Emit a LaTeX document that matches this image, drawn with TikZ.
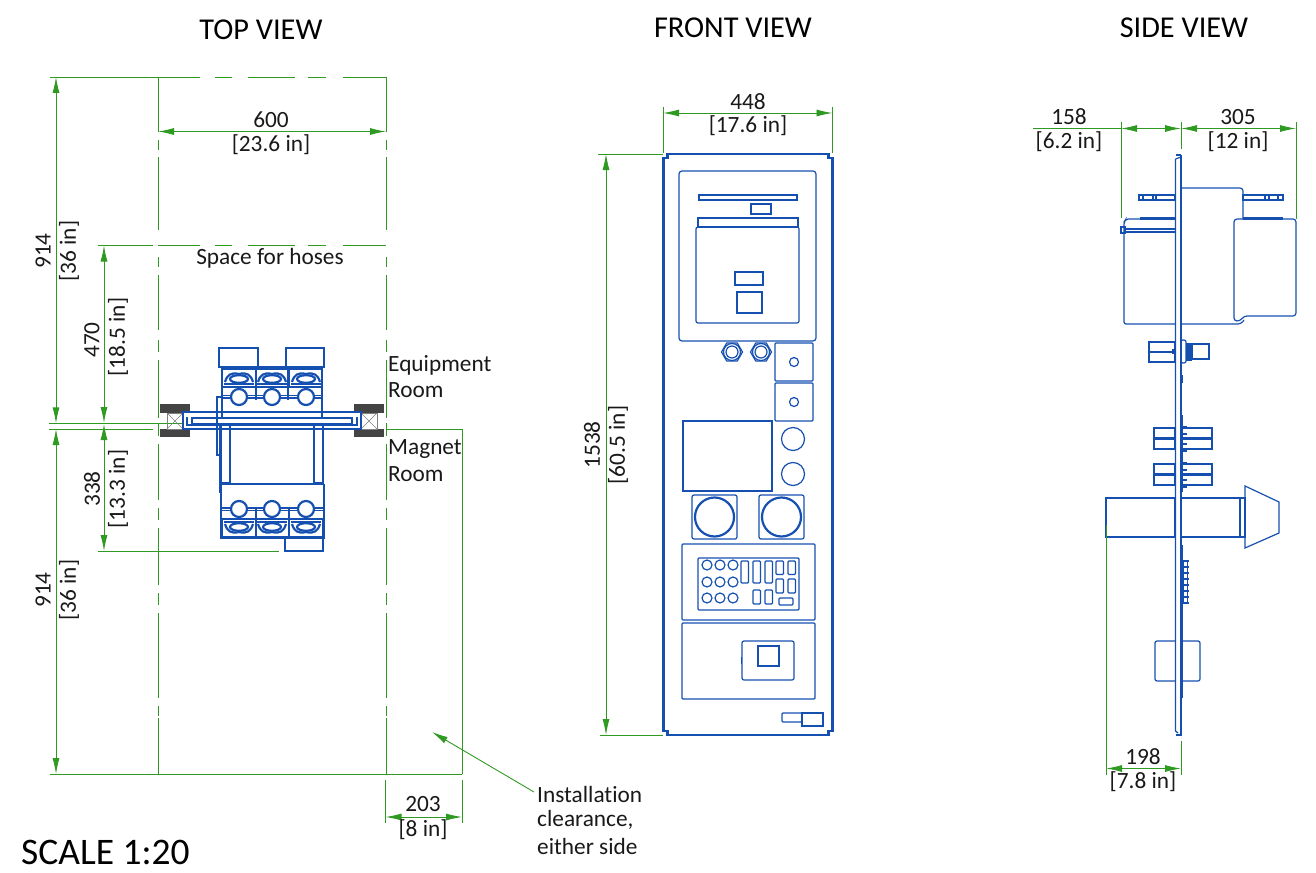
\documentclass[tikz,border=0pt]{standalone}
\usepackage{fontspec}
\setmainfont{Carlito}[Ligatures=NoCommon]
\usetikzlibrary{arrows.meta}
\definecolor{dimgreen}{HTML}{2F9A22}
\definecolor{partblue}{HTML}{1550B0}
\definecolor{wallgray}{HTML}{444444}
\tikzset{
  dimline/.style={draw=dimgreen, line width=0.9pt},
  dimarrow/.style={dimline, {Latex[length=16pt,width=7pt]}-{Latex[length=16pt,width=7pt]}},
  part/.style={draw=partblue, line width=1.2pt},
  thickpart/.style={draw=partblue, line width=2.2pt},
  dimtext/.style={text=black!90, font=\fontsize{23.3}{25}\selectfont, inner sep=0pt},
  viewtitle/.style={text=black, font=\fontsize{30.3}{32}\selectfont, inner sep=0pt},
  clampcell/.pic={
    \draw[part] (-16.5,-18) rectangle (16.5,0);
    \draw[thickpart] (-15,-3) -- (15,-3);
    \draw[part] (-15,0) -- (15,0);
    \draw[thickpart] (-14,-5) .. controls (-12,-12) and (-8,-15) .. (0,-13)
      .. controls (8,-15) and (12,-12) .. (14,-5);
    \draw[thickpart] (0,-8) ellipse (9 and 3.8);
    \draw[thickpart] (0,10) circle (8);
    \draw[part] (-17,8.5) -- (-8,8.5) (8,8.5) -- (17,8.5);
    \draw[part] (-17,11) -- (-8,11) (8,11) -- (17,11);
  },
  hexnut/.pic={
    \draw[part] (0:10.5) -- (60:10.5) -- (120:10.5) -- (180:10.5) -- (240:10.5) -- (300:10.5) -- cycle;
    \draw[part] (0,0) circle (8.5);
    \draw[part] (0,0) circle (6);
  },
}
\begin{document}
\begin{tikzpicture}[x=1pt, y=-1pt]
\useasboundingbox (0,0) rectangle (1316,872);
% titles
\node[viewtitle] (topTitle) at (261,30) {TOP VIEW};
\node[viewtitle] (frontTitle) at (733,28) {FRONT VIEW};
\node[viewtitle] (sideTitle) at (1184,28) {SIDE VIEW};
\node[viewtitle, anchor=west, font=\fontsize{37.5}{39}\selectfont] (scaleTitle) at (21,852) {SCALE 1:20};

% top view: clearance
\draw[dimline] (50,77) -- (158,77);
\draw[dimline] (98,245.5) -- (153,245.5);
\foreach \dy in {77,245.5}
  \foreach \xa/\xb in {158/200,215/232,248/295,308/326,343/386}
    \draw[dimline] (\xa,\dy) -- (\xb,\dy);
\draw[dimline] (158,77) -- (158,132);
\draw[dimline] (386,77) -- (386,132);
\foreach \dx in {158,386}
  \foreach \ya/\yb in {140/150,157/230,245.5/245.5,257/267,275/330,340/352,360/418,423/436,444/500,508/520,528/585,593/605,613/698,706/716,718/774}
    \draw[dimline] (\dx,\ya) -- (\dx,\yb);
\draw[dimline] (49,423.3) -- (182,423.3);
\draw[dimline] (49,429) -- (153,429);
\draw[dimline] (386,429) -- (462,429) -- (462,774);
\draw[dimline] (98,551) -- (279,551);
\draw[dimline] (50,774) -- (462,774);
\draw[dimline] (385.5,780) -- (385.5,823);
\draw[dimline] (462,780) -- (462,823);
\draw[dimarrow] (158,131.5) -- (386,131.5);
\draw[dimarrow] (56,77) -- (56,423.3);
\draw[dimarrow] (56,429) -- (56,774);
\draw[dimarrow] (104,245.5) -- (104,423);
\draw[dimarrow] (104,424) -- (104,551);
\draw[dimarrow] (385.5,817) -- (462,817);
\draw[dimline, -{Latex[length=16pt,width=7pt]}] (534,792) -- (432,732);

% top view: wall
\fill[wallgray] (160,404) rectangle (190,413);
\fill[wallgray] (160,429) rectangle (190,437);
\fill[wallgray] (354,404) rectangle (384,413);
\fill[wallgray] (354,429) rectangle (384,437);
\foreach \wx in {167,361}{
  \draw[draw=gray, line width=0.6pt] (\wx,413) rectangle ++(16,16);
  \draw[draw=gray, line width=0.6pt] (\wx,413) -- ++(16,16) (\wx,429) -- ++(16,-16);
}

% top view: unit
\draw[part] (219,348) rectangle (258,367);
\draw[part] (286,348) rectangle (324,367);
\draw[part] (221,367) -- (323,367);
\draw[thickpart] (222,367) -- (222,418) (322,367) -- (322,418);
\draw[thickpart] (220,418) -- (324,418);
\draw[part] (256,367) -- (256,400) (288,367) -- (288,400);
\foreach \cx in {239,272,306}{
  \path (\cx,387) pic {clampcell};
  \path (\cx,519) pic[yscale=-1] {clampcell};
}
\draw[part] (183,412) rectangle (361,429);
\draw[part] (192,418) rectangle (352,424);
\draw[part] (187,417) -- (187,425) -- (357,425) -- (357,417);
\draw[part] (217,429) -- (217,397) -- (221,397);
\draw[part] (217,429) -- (217,455) -- (221,455);
\draw[part] (221,424) rectangle (230,483);
\draw[part] (314,424) rectangle (323,483);
\draw[part] (219.5,424) -- (219.5,493);
\draw[part] (220,484) -- (324,484);
\draw[thickpart] (221,484) -- (221,538) -- (324,538) -- (324,484);
\draw[part] (256,508) -- (256,538) (289,508) -- (289,538);
\draw[part] (285,538) rectangle (323,551);

% front view
\draw[thickpart] (667.5,154) -- (828.5,154) -- (828.5,158) -- (832.5,158) -- (832.5,731)
  -- (828.5,731) -- (828.5,735) -- (667.5,735) -- (667.5,731) -- (663.5,731)
  -- (663.5,158) -- (667.5,158) -- cycle;
\draw[part, rounded corners=3pt] (679,171) rectangle (816,341);
\draw[part] (699,195) rectangle (797,200);
\draw[part] (751,204) rectangle (771,214);
\draw[part] (698,218) rectangle (798,227);
\draw[part, rounded corners=2pt] (696,227) rectangle (799,323);
\draw[part] (735,272) rectangle (763,285);
\draw[part] (737,292) rectangle (762,313);
\path (732,352) pic {hexnut};
\path (761,352) pic {hexnut};
\foreach \sy in {343,383}{
  \draw[part, rounded corners=1pt] (775,\sy) rectangle ++(38,38);
  \draw[part] (794,\sy+19) circle (4.5);
}
\draw[part] (683,421) rectangle (772,491);
\draw[part] (793,439) circle (11.5);
\draw[part] (793,474) circle (11.5);
\foreach \kx in {692,759}{
  \draw[part, rounded corners=2pt] (\kx,495) rectangle ++(45,44);
  \draw[thickpart] (\kx+22.5,517) circle (19.5);
}
\draw[part, rounded corners=1pt] (682,544) rectangle (815,620);
\draw[part, rounded corners=1pt] (698,558) rectangle (799,610);
\foreach \bx in {707,720,733}
  \foreach \by in {565,582,598}
    \draw[part] (\bx,\by) circle (5);
\foreach \rx in {741,753,765}
  \draw[part, rounded corners=1pt] (\rx,561) rectangle ++(7.5,22);
\foreach \rx in {776,788}{
  \draw[part, rounded corners=1pt] (\rx,561) rectangle ++(7.5,13.5);
  \draw[part, rounded corners=1pt] (\rx,579) rectangle ++(7.5,14);
}
\foreach \rx in {753,765}
  \draw[part, rounded corners=1pt] (\rx,590) rectangle ++(7.5,14);
\draw[part, rounded corners=1pt] (779,598) rectangle (793,605);
\draw[part, rounded corners=1pt] (682,623) rectangle (815,699);
\draw[part, rounded corners=2pt] (742,641) rectangle (794,680);
\draw[part] (758,646) rectangle (779,666);
\draw[part] (741.5,657) -- (741.5,664);
\draw[part, rounded corners=1pt] (782,713) rectangle (802,722);
\draw[part] (802,713) rectangle (823,726);

% front view: dimensions
\draw[dimline] (663,107) -- (663,153);
\draw[dimline] (832.5,107) -- (832.5,153);
\draw[dimline] (598,154) -- (663,154);
\draw[dimline] (600,735) -- (663,735);
\draw[dimarrow] (663,113) -- (832.5,113);
\draw[dimarrow] (606,154) -- (606,735);

% side view
\draw[part] (1175.5,159) -- (1175.5,731) -- (1178,733);
\draw[part] (1181,155) -- (1181,735) -- (1176,735);
\draw[part] (1176,155) -- (1181,155);
\draw[part] (1175.5,159) -- (1181,157);
\draw[part, rounded corners=2pt] (1175,219) -- (1126,219) -- (1124,222) -- (1124,324) -- (1175,324);
\draw[part] (1125,229) -- (1175,229) (1125,232) -- (1175,232);
\draw[part] (1121,227) rectangle (1125,233);
\draw[thickpart] (1140,218.5) -- (1175,218.5);
\draw[part, rounded corners=3pt] (1181,188) -- (1243,188) -- (1243,219);
\draw[part, rounded corners=3pt] (1181,324) -- (1241,324) -- (1244,320);
\draw[part, rounded corners=3pt] (1243,219) -- (1234,219) -- (1234,321) -- (1240,321) -- (1244,316) -- (1296,316) -- (1296,219) -- (1243,219);
\draw[thickpart] (1243,218.5) -- (1283,218.5);
\draw[part] (1139,195) rectangle (1175,200);
\draw[part] (1143,195) -- (1143,200) (1153,195) -- (1153,200) (1156,195) -- (1156,200);
\draw[part] (1243,195) rectangle (1283,200);
\draw[part] (1265,195) -- (1265,200) (1269,195) -- (1269,200) (1278,195) -- (1278,200);
\draw[part] (1149,342) rectangle (1175,362);
\draw[part] (1149,352) -- (1175,352);
\fill[partblue] (1172,349) rectangle (1175,354);
\draw[part, rounded corners=2pt] (1181,340) rectangle (1186,363);
\fill[partblue] (1186,343) rectangle (1192,361);
\draw[part] (1192,344) rectangle (1209,359);
\draw[part] (1182,375) -- (1182,383);
\draw[part] (1182,415) -- (1182,428);
\foreach \sy in {428,464}{
  \draw[part] (1154,\sy) rectangle (1175,\sy+21);
  \draw[part] (1181,\sy) rectangle (1212,\sy+21);
  \draw[thickpart] (1154,\sy+10.5) -- (1175,\sy+10.5);
  \draw[thickpart] (1181,\sy+10.5) -- (1212,\sy+10.5);
  \foreach \ty in {-1,6,16,23}
    \fill[partblue] (1182,\sy+\ty-1) rectangle (1186.5,\sy+\ty+1);
}
\draw[part] (1182,428) -- (1182,492);
\draw[part] (1106,498) rectangle (1175,537);
\draw[part] (1181,498) -- (1240,498) (1181,537) -- (1240,537);
\draw[part] (1240,498) rectangle (1245,537);
\draw[part] (1245,486) -- (1279,502) -- (1279,533) -- (1245,548) -- cycle;
\draw[part] (1182,545) -- (1182,698);
\draw[part] (1183,561) rectangle (1187.5,603);
\foreach \ty in {561,567,573,579,585,591,597,603}
  \fill[partblue] (1183,\ty-0.9) rectangle (1188.5,\ty+0.9);
\draw[part, rounded corners=2pt] (1175,641) -- (1155,641) -- (1155,681) -- (1175,681);
\draw[part, rounded corners=2pt] (1181,641) -- (1200,641) -- (1200,681) -- (1181,681);

% side view: dimensions
\draw[dimline] (1121,122) -- (1121,218);
\draw[dimline] (1181,122) -- (1181,149);
\draw[dimline] (1296,122) -- (1296,219);
\draw[dimline] (1033,128.5) -- (1121,128.5);
\draw[dimarrow] (1121,128.5) -- (1181,128.5);
\draw[dimarrow] (1181,128.5) -- (1296,128.5);
\draw[dimline] (1106,525) -- (1106,775);
\draw[dimline] (1181,741) -- (1181,775);
\draw[dimarrow] (1106,768.5) -- (1181,768.5);

% labels
\node[dimtext] (topWidth) at (271,120) {600};
\node[dimtext] (topWidthIn) at (271,145) {[23.6 in]};
\node[dimtext] (hoses) at (270,258) {Space for hoses};
\node[dimtext, rotate=90] (upperDepth) at (43,251) {914};
\node[dimtext, rotate=90] (upperDepthIn) at (69,251) {[36 in]};
\node[dimtext, rotate=90] (hoseDepth) at (92,340) {470};
\node[dimtext, rotate=90] (hoseDepthIn) at (118,337) {[18.5 in]};
\node[dimtext, rotate=90] (roomDepth) at (92,489) {338};
\node[dimtext, rotate=90] (roomDepthIn) at (118,489) {[13.3 in]};
\node[dimtext, rotate=90] (lowerDepth) at (43,590) {914};
\node[dimtext, rotate=90] (lowerDepthIn) at (69,590) {[36 in]};
\node[dimtext, anchor=west] (eqRoomA) at (388,365) {Equipment};
\node[dimtext, anchor=west] (eqRoomB) at (388,390) {Room};
\node[dimtext, anchor=west] (magRoomA) at (388,449) {Magnet};
\node[dimtext, anchor=west] (magRoomB) at (388,474) {Room};
\node[dimtext] (clearWidth) at (423,804) {203};
\node[dimtext] (clearWidthIn) at (423,830) {[8 in]};
\node[dimtext, anchor=west] (noteA) at (537,794) {Installation};
\node[dimtext, anchor=west] (noteB) at (537,820) {clearance,};
\node[dimtext, anchor=west] (noteC) at (537,846) {either side};
\node[dimtext] (frontWidth) at (748,102) {448};
\node[dimtext] (frontWidthIn) at (748,126) {[17.6 in]};
\node[dimtext, rotate=90] (frontHeight) at (592,445) {1538};
\node[dimtext, rotate=90] (frontHeightIn) at (618,445) {[60.5 in]};
\node[dimtext] (sideLeft) at (1069,117) {158};
\node[dimtext] (sideLeftIn) at (1069,142) {[6.2 in]};
\node[dimtext] (sideRight) at (1238,117) {305};
\node[dimtext] (sideRightIn) at (1238,142) {[12 in]};
\node[dimtext] (sideDepth) at (1143,757) {198};
\node[dimtext] (sideDepthIn) at (1143,782) {[7.8 in]};
\end{tikzpicture}
\end{document}
